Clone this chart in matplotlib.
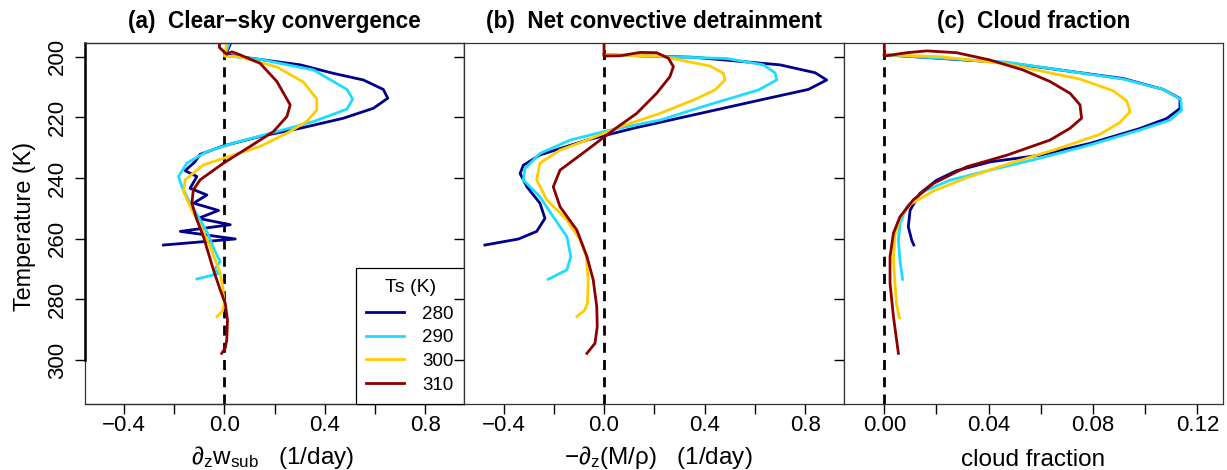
import matplotlib
matplotlib.use("Agg")
import matplotlib.pyplot as plt
import numpy as np

plt.rcParams['font.family'] = ['Liberation Sans', 'DejaVu Sans']
plt.rcParams['mathtext.fontset'] = 'custom'
plt.rcParams['mathtext.rm'] = 'Liberation Sans'
plt.rcParams['mathtext.it'] = 'Liberation Sans'
plt.rcParams['mathtext.sf'] = 'Liberation Sans'

ts_labels = ['280', '290', '300', '310']
colors = ['#00008B', '#1EDCFF', '#FFCC00', '#8B0000']

# ---- panel (a) clear-sky convergence ----
a280_T = [195.5, 199.4, 202.7, 205.5, 207.7, 210.8, 213.7, 217.0, 220.3, 223.6, 226.3, 229.4, 232.2, 234.6,
          237.6, 239.5, 243.4, 245.6, 248.3, 250.7, 253.3, 255.4, 257.6, 260.1, 262.1]
a280_v = [0.025, 0.005, 0.302, 0.434, 0.554, 0.633, 0.651, 0.594, 0.474, 0.302, 0.142, -0.004, -0.097, -0.117,
          -0.157, -0.110, -0.137, -0.070, -0.123, -0.024, -0.104, 0.023, -0.176, 0.043, -0.243]
a290_T = [195.5, 199.7, 200.9, 204.4, 210.8, 214.0, 217.3, 221.4, 225.0, 228.5, 231.3, 235.1, 239.5, 242.8,
          248.3, 253.8, 258.7, 263.1, 267.5, 270.3, 271.4, 273.3]
a290_v = [0.02, 0.0, 0.142, 0.355, 0.488, 0.511, 0.488, 0.355, 0.195, 0.036, -0.070, -0.150, -0.183, -0.170,
          -0.137, -0.097, -0.064, -0.044, -0.017, -0.041, -0.017, -0.110]
a300_T = [195.5, 199.8, 200.1, 203.4, 208.4, 214.0, 217.6, 221.4, 225.2, 229.6, 232.4, 235.7, 240.6, 244.5,
          250.5, 256.6, 262.6, 267.0, 271.4, 275.8, 281.3, 283.9, 285.7]
a300_v = [0.01, 0.0, 0.062, 0.209, 0.315, 0.368, 0.368, 0.328, 0.249, 0.142, 0.036, -0.084, -0.157, -0.163,
          -0.130, -0.090, -0.057, -0.037, -0.017, -0.007, -0.001, -0.008, -0.030]
a310_T = [195.5, 197.0, 199.2, 198.4, 199.4, 202.2, 208.2, 215.9, 219.7, 224.7, 229.6, 235.1, 240.6, 243.9,
          248.3, 253.8, 259.3, 264.8, 270.3, 276.9, 281.3, 286.8, 293.4, 296.1, 297.8]
a310_v = [-0.02, -0.02, 0.009, 0.029, 0.062, 0.142, 0.209, 0.262, 0.249, 0.195, 0.102, -0.004, -0.097, -0.124,
          -0.130, -0.110, -0.084, -0.064, -0.044, -0.017, 0.003, 0.012, 0.009, 0.003, -0.011]

# ---- panel (b) net convective detrainment ----
b280_T = [199.4, 200.2, 202.7, 205.3, 207.7, 210.8, 214.3, 219.2, 223.6, 227.5, 232.4, 235.8, 238.5, 242.9,
          248.3, 253.3, 257.6, 260.1, 262.1]
b280_v = [0.0, 0.356, 0.700, 0.840, 0.886, 0.813, 0.621, 0.356, 0.117, -0.068, -0.255, -0.321, -0.334, -0.307,
          -0.255, -0.235, -0.268, -0.340, -0.474]
b290_T = [199.4, 200.6, 202.7, 205.3, 207.7, 211.0, 215.4, 220.9, 224.2, 227.5, 231.9, 236.9, 240.7, 246.2,
          252.8, 259.3, 265.9, 270.3, 273.4]
b290_v = [0.0, 0.488, 0.634, 0.680, 0.687, 0.614, 0.435, 0.223, 0.024, -0.135, -0.255, -0.315, -0.321, -0.255,
          -0.202, -0.148, -0.132, -0.148, -0.222]
b300_T = [199.4, 199.8, 203.1, 205.5, 207.7, 211.0, 214.3, 218.7, 223.1, 227.5, 230.8, 235.1, 240.6, 247.2,
          253.8, 260.4, 265.9, 273.6, 281.3, 283.5, 285.7]
b300_v = [0.0, 0.223, 0.422, 0.475, 0.481, 0.441, 0.356, 0.223, 0.064, -0.068, -0.175, -0.255, -0.268, -0.228,
          -0.148, -0.095, -0.071, -0.063, -0.066, -0.076, -0.108]
b310_T = [195.1, 199.8, 199.7, 198.6, 198.7, 200.5, 203.3, 206.6, 212.1, 218.7, 224.2, 230.8, 237.4, 242.9,
          249.5, 257.2, 265.9, 273.6, 282.4, 289.0, 294.5, 297.8]
b310_v = [0.0, 0.0, 0.064, 0.144, 0.209, 0.256, 0.276, 0.262, 0.209, 0.130, 0.037, -0.068, -0.175, -0.202,
          -0.175, -0.108, -0.068, -0.043, -0.029, -0.027, -0.036, -0.068]

# ---- panel (c) cloud fraction ----
c280_T = [199.4, 202.0, 207.2, 210.8, 213.8, 217.1, 220.4, 223.7, 228.6, 232.5, 234.7, 237.6, 240.7, 245.1,
          250.6, 256.1, 260.5, 262.1]
c280_v = [0.0, 0.0469, 0.0915, 0.1069, 0.1133, 0.1133, 0.1082, 0.0979, 0.0788, 0.0596, 0.0405, 0.0277, 0.0201,
          0.0136, 0.0099, 0.0092, 0.0105, 0.0113]
c290_T = [199.4, 201.8, 207.4, 210.8, 214.1, 217.6, 220.9, 224.2, 229.1, 233.5, 237.4, 240.7, 244.5, 249.5,
          255.0, 260.5, 267.1, 273.4]
c290_v = [0.0, 0.0469, 0.0915, 0.1069, 0.1136, 0.1139, 0.1095, 0.0979, 0.0788, 0.0596, 0.0405, 0.0252, 0.0149,
          0.0086, 0.0060, 0.0054, 0.0060, 0.0070]
c300_T = [199.4, 200.0, 202.4, 207.4, 211.3, 214.6, 218.1, 221.7, 225.6, 230.5, 235.5, 239.9, 244.3, 248.7,
          253.1, 258.6, 266.3, 275.1, 281.7, 286.1]
c300_v = [0.0, 0.0213, 0.0469, 0.0750, 0.0878, 0.0929, 0.0942, 0.0903, 0.0826, 0.0660, 0.0469, 0.0316, 0.0188,
          0.0099, 0.0060, 0.0041, 0.0035, 0.0041, 0.0047, 0.0058]
c310_T = [195.1, 199.8, 198.7, 198.1, 198.7, 201.1, 204.4, 208.2, 212.1, 215.9, 220.3, 223.6, 227.5, 232.5,
          236.3, 241.8, 247.2, 252.8, 258.2, 265.9, 274.7, 285.7, 297.8]
c310_v = [0.0, 0.0, 0.0086, 0.0163, 0.0277, 0.0405, 0.0532, 0.0635, 0.0712, 0.0750, 0.0756, 0.0712, 0.0635,
          0.0469, 0.0316, 0.0188, 0.0111, 0.0060, 0.0035, 0.0022, 0.0022, 0.0035, 0.0054]

titles = ['(a)  Clear\u2212sky convergence', '(b)  Net convective detrainment', '(c)  Cloud fraction']
ylabel = 'Temperature (K)'
yticks = [200, 220, 240, 260, 280, 300]
xticks_ab = [-0.4, -0.2, 0.0, 0.2, 0.4, 0.6, 0.8]
xlabels_ab = ['\u22120.4', '', '0.0', '', '0.4', '', '0.8']
xticks_c = [0.0, 0.02, 0.04, 0.06, 0.08, 0.10, 0.12]
xlabels_c = ['0.00', '', '0.04', '', '0.08', '', '0.12']

W, H = 1227, 470
fig = plt.figure(figsize=(W / 100, H / 100), dpi=100)

def fx(px):
    return px / W

def fy(py):
    return 1 - py / H

edges = [85, 464.3, 844.3, 1223]
top, bot = 43, 404
xlims = [(-0.556, 0.956), (-0.556, 0.956), (-0.01533, 0.1298)]

panels = [
    [(a280_v, a280_T), (a290_v, a290_T), (a300_v, a300_T), (a310_v, a310_T)],
    [(b280_v, b280_T), (b290_v, b290_T), (b300_v, b300_T), (b310_v, b310_T)],
    [(c280_v, c280_T), (c290_v, c290_T), (c300_v, c300_T), (c310_v, c310_T)],
]

axes = []
for i in range(3):
    ax = fig.add_axes([fx(edges[i]), fy(bot), fx(edges[i + 1] - edges[i]), (bot - top) / H])
    axes.append(ax)
    ax.axvline(0, color='black', lw=2.0, ls=(0, (3.6, 2.6)), zorder=1)
    for (v, T), col, lab in zip(panels[i], colors, ts_labels):
        ax.plot(v, T, color=col, lw=2.0, label=lab, zorder=2, solid_joinstyle='round')
    ax.set_ylim(314.5, 195.5)
    ax.set_xlim(*xlims[i])
    ax.set_yticks(yticks)
    if i < 2:
        ax.set_xticks(xticks_ab)
        ax.set_xticklabels(xlabels_ab)
    else:
        ax.set_xticks(xticks_c)
        ax.set_xticklabels(xlabels_c)
    ax.tick_params(axis='both', direction='out', length=7, width=1.0, color='black', labelsize=16)
    ax.tick_params(axis='x', pad=1)
    ax.tick_params(axis='y', pad=5)
    if i == 0:
        ax.set_yticklabels([str(t) for t in yticks], rotation=90, va='center')
    else:
        ax.set_yticklabels([])
    for s in ax.spines.values():
        s.set_linewidth(0.9)
        s.set_color('#333333')
    ax.set_title(titles[i], fontsize=16.3, fontweight='bold', pad=11)

# R-style heavier axis line on the left of panel (a)
axes[0].patch.set_edgecolor('#333333')
axes[0].patch.set_linewidth(0.9)
axes[0].spines['left'].set_bounds(195.5, 300)
axes[0].spines['left'].set_color('black')
axes[0].spines['left'].set_linewidth(1.8)

# legend in panel (a)
leg = axes[0].legend(title='Ts (K)', loc='lower right', bbox_to_anchor=(1.0, 0.0), borderaxespad=0,
                     frameon=True, fancybox=False, edgecolor='black', framealpha=1, fontsize=13.5,
                     title_fontsize=14, handlelength=2.0, handletextpad=1.0, borderpad=0.55,
                     labelspacing=0.35)
leg.get_frame().set_linewidth(0.9)
leg._legend_box.sep = 7.0
leg.set_zorder(5)

fig.text(fx(25), fy(226), ylabel, rotation=90, ha='center', va='center', fontsize=16.8)
fig.text(fx(273), fy(464), r'$\partial_z \mathregular{w_{sub}}$   (1/day)', ha='center', va='baseline', fontsize=17.5)
fig.text(fx(658), fy(464), r'$-\partial_z \mathregular{(M/\rho)}$   (1/day)', ha='center', va='baseline', fontsize=17.5)
fig.text(fx(1033), fy(466), 'cloud fraction', ha='center', va='baseline', fontsize=17.5)

fig.savefig('out.png', dpi=100)
